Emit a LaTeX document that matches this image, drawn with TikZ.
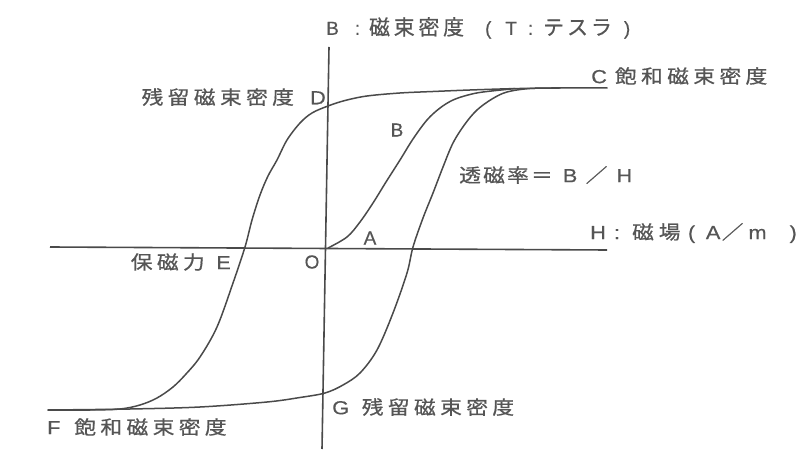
\documentclass[tikz,border=0pt]{standalone}
\usepackage{fontspec}
\newfontfamily\jp{Noto Sans CJK JP}[LetterSpace=20, FakeBold=0.6]
\newfontfamily\jpmid{Noto Sans CJK JP}[LetterSpace=10, FakeBold=0.6]
\newfontfamily\jptop{Noto Sans CJK JP}[LetterSpace=18, FakeBold=0.6]
\newfontfamily\latf{Liberation Sans}[FakeBold=0.4]
\newcommand\lat[1]{{\latf\fontsize{19}{19}\selectfont #1}}
\newcommand\wide[1]{\scalebox{1.15}[1]{#1}}
\definecolor{ink}{HTML}{4A4A4A}
\definecolor{txt}{HTML}{555555}
\tikzset{
  curve/.style={draw=ink, line width=1.5bp, line join=round, line cap=round},
  axis/.style={draw=ink, line width=1.6bp},
  lbl/.style={text=txt, inner sep=0pt, font=\jp\fontsize{19}{19}\selectfont},
  lbltight/.style={text=txt, inner sep=0pt, font=\jpmid\fontsize{19}{19}\selectfont},
  toplbl/.style={text=txt, inner sep=0pt, font=\jptop\fontsize{21}{21}\selectfont},
  letter/.style={text=txt, inner sep=0pt, font=\latf\fontsize{19}{19}\selectfont}
}
\begin{document}
\begin{tikzpicture}[x=1bp, y=-1bp]
\useasboundingbox (0,0) rectangle (810,462);
\fill[white] (0,0) rectangle (810,462);
% axes
\coordinate (Btop) at (329,47);
\coordinate (Bbot) at (322,449);
\coordinate (Hl) at (50,247);
\coordinate (Hr) at (607,250);
\draw[axis] (Btop) -- (Bbot);
\draw[axis] (Hl) -- (Hr);
% descending branch C -> D -> E -> F
\draw[curve] plot[smooth, tension=0.55] coordinates {
  (607,88) (560,88) (515,88.6) (470,90) (433,91.5) (400,93) (367,96) (345,100.5) (328,106)
  (312,113) (300,123) (287,140) (277,160) (268,176) (260,195) (252,220) (245,247)
  (233,283) (217,327) (200,357) (186,374) (173,387) (157,398) (140,405) (120,409) (90,410) (48,410)};
% ascending branch F -> G -> C
\draw[curve] plot[smooth, tension=0.55] coordinates {
  (48,410) (130,409) (200,407) (267,402) (300,397.5) (325,393) (343,385) (360,373)
  (377,350) (393,313) (407,273) (413,247) (423,218) (433,193) (443,167) (453,143)
  (465,124) (477,110) (492,99) (507,92) (530,88.5) (560,88)};
% initial magnetisation curve O -> A -> B -> C
\draw[curve] plot[smooth, tension=0.55] coordinates {
  (328,248) (347,237) (360,222) (373,203) (386,182) (400,160) (413,139) (427,120)
  (440,108) (453,100) (468,95) (483,92) (515,88.6)};
% labels
\node[toplbl, anchor=west] (tB) at (326,28) {\lat{B}\hspace{16bp}\lat{:}\hspace{9bp}磁束密度\hspace{21bp}\lat{(}\hspace{14bp}\lat{T}\hspace{11bp}\lat{:}\hspace{10bp}テ\hspace{3bp}ス\hspace{3bp}ラ\hspace{12bp}\lat{)}};
\node[lbl, anchor=east] (tD) at (326,97) {\wide{残留磁束密度\hspace{14bp}\lat{D}}};
\node[lbl, anchor=west] (tC) at (591,76) {\wide{\lat{C}\hspace{7bp}飽和磁束密度}};
\node[letter] (tBB) at (397,130) {B};
\node[lbltight, anchor=west] (tmu) at (459,175) {\wide{透磁率＝\hspace{8.7bp}\lat{B}\hspace{7.3bp}／\hspace{7.8bp}\lat{H}}};
\node[lbl, anchor=west] (tH) at (590,233) {\wide{\lat{H}\hspace{7bp}\lat{:}\hspace{10.5bp}磁\hspace{4.3bp}場\hspace{6.4bp}\lat{(}\hspace{9.3bp}\lat{A}\hspace{1.2bp}／\hspace{4.3bp}\lat{m}\hspace{20bp}\lat{)}}};
\node[letter] (tA) at (370,238) {A};
\node[letter] (tO) at (312,262) {O};
\node[lbl, anchor=east] (tE) at (231,262) {\wide{保磁力\hspace{10bp}\lat{E}}};
\node[lbl, anchor=west] (tF) at (47,427) {\wide{\lat{F}\hspace{12bp}飽和磁束密度}};
\node[lbl, anchor=west] (tG) at (332,407) {\wide{\lat{G}\hspace{11bp}残留磁束密度}};
\end{tikzpicture}
\end{document}
